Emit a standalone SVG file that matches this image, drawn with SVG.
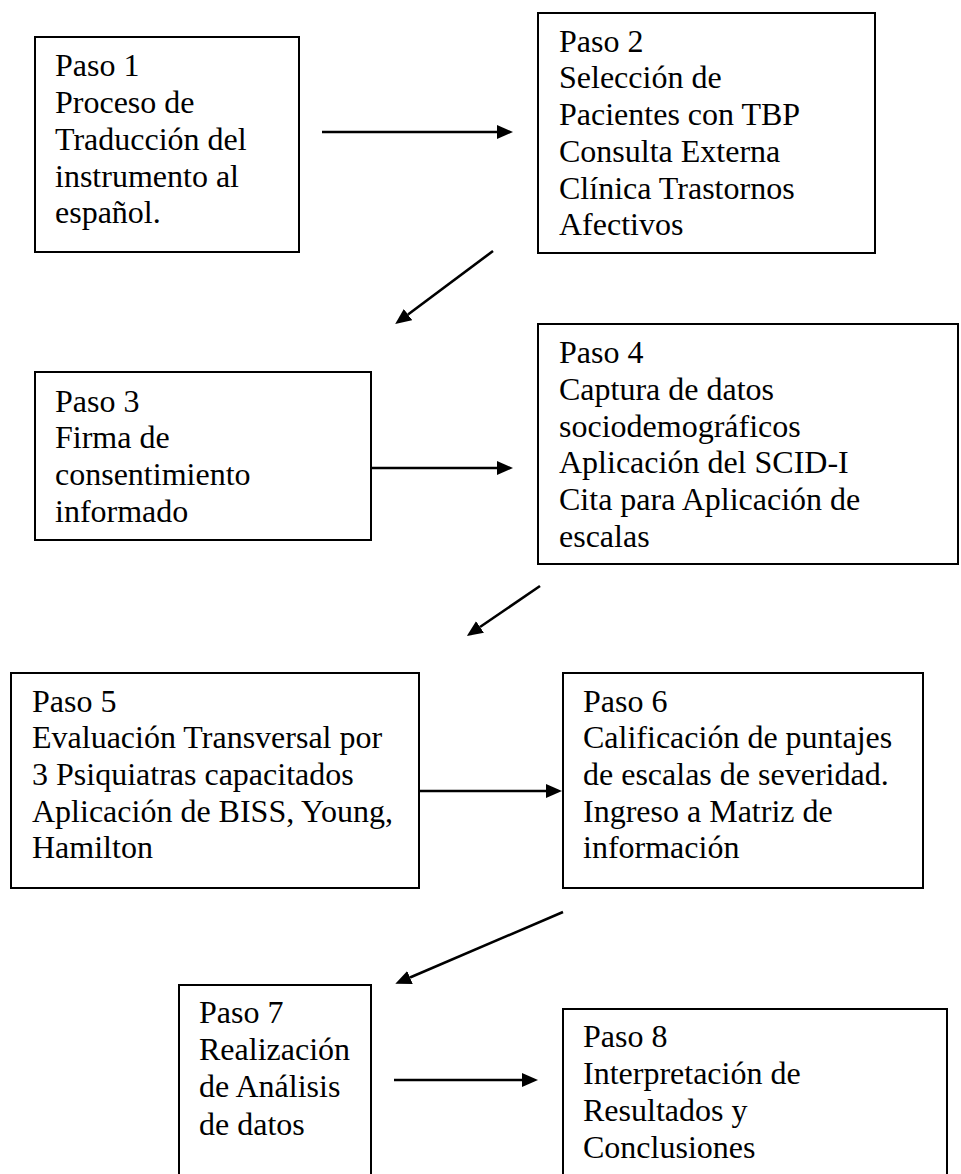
<svg xmlns="http://www.w3.org/2000/svg" width="961" height="1174" viewBox="0 0 961 1174">
<defs>
<style>
.box{fill:#fff;stroke:#000;stroke-width:2}
.t{font-family:"Liberation Serif","Times New Roman",serif;font-size:32px;fill:#000}
.c{stroke:#000;stroke-width:2.6;fill:none;marker-end:url(#ah)}
</style>
<marker id="ah" markerUnits="userSpaceOnUse" markerWidth="18" markerHeight="16" refX="0" refY="7" orient="auto">
<path d="M0,0 L16,7 L0,14 z" fill="#000"/>
</marker>
</defs>
<rect width="961" height="1174" fill="#fff"/>
<g id="connectors">
<line class="c" x1="322" y1="132" x2="497" y2="132"/>
<line class="c" x1="493" y1="251" x2="408" y2="314.5"/>
<line class="c" x1="371" y1="468" x2="497" y2="468"/>
<line class="c" x1="540" y1="586" x2="480" y2="627"/>
<line class="c" x1="419" y1="791" x2="546" y2="791"/>
<line class="c" x1="563" y1="912" x2="410" y2="977.5"/>
<line class="c" x1="394" y1="1080" x2="522" y2="1080"/>
</g>
<g id="paso1">
<rect class="box" x="35" y="37" width="264" height="215"/>
<text class="t"><tspan x="55" y="76">Paso 1</tspan><tspan x="55" y="113">Proceso de</tspan><tspan x="55" y="150">Traducción del</tspan><tspan x="55" y="187">instrumento al</tspan><tspan x="55" y="223">español.</tspan></text>
</g>
<g id="paso2">
<rect class="box" x="538" y="13" width="337" height="240"/>
<text class="t"><tspan x="559" y="52">Paso 2</tspan><tspan x="559" y="88">Selección de</tspan><tspan x="559" y="125">Pacientes con TBP</tspan><tspan x="559" y="162">Consulta Externa</tspan><tspan x="559" y="199">Clínica Trastornos</tspan><tspan x="559" y="235">Afectivos</tspan></text>
</g>
<g id="paso3">
<rect class="box" x="35" y="372" width="336" height="168"/>
<text class="t"><tspan x="55" y="412">Paso 3</tspan><tspan x="55" y="448">Firma de</tspan><tspan x="55" y="485">consentimiento</tspan><tspan x="55" y="522">informado</tspan></text>
</g>
<g id="paso4">
<rect class="box" x="538" y="324" width="420" height="240"/>
<text class="t"><tspan x="559" y="363">Paso 4</tspan><tspan x="559" y="400">Captura de datos</tspan><tspan x="559" y="437">sociodemográficos</tspan><tspan x="559" y="473">Aplicación del SCID-I</tspan><tspan x="559" y="510">Cita para Aplicación de</tspan><tspan x="559" y="547">escalas</tspan></text>
</g>
<g id="paso5">
<rect class="box" x="11" y="673" width="408" height="215"/>
<text class="t"><tspan x="32" y="712">Paso 5</tspan><tspan x="32" y="748">Evaluación Transversal por</tspan><tspan x="32" y="785">3 Psiquiatras capacitados</tspan><tspan x="32" y="822">Aplicación de BISS, Young,</tspan><tspan x="32" y="858">Hamilton</tspan></text>
</g>
<g id="paso6">
<rect class="box" x="563" y="673" width="360" height="215"/>
<text class="t"><tspan x="583" y="712">Paso 6</tspan><tspan x="583" y="748">Calificación de puntajes</tspan><tspan x="583" y="785">de escalas de severidad.</tspan><tspan x="583" y="822">Ingreso a Matriz de</tspan><tspan x="583" y="858">información</tspan></text>
</g>
<g id="paso7">
<rect class="box" x="179" y="985" width="192" height="200"/>
<text class="t"><tspan x="199" y="1023">Paso 7</tspan><tspan x="199" y="1060">Realización</tspan><tspan x="199" y="1097">de Análisis</tspan><tspan x="199" y="1135">de datos</tspan></text>
</g>
<g id="paso8">
<rect class="box" x="563" y="1009" width="384" height="180"/>
<text class="t"><tspan x="583" y="1047">Paso 8</tspan><tspan x="583" y="1084">Interpretación de</tspan><tspan x="583" y="1121">Resultados y</tspan><tspan x="583" y="1158">Conclusiones</tspan></text>
</g>
</svg>
